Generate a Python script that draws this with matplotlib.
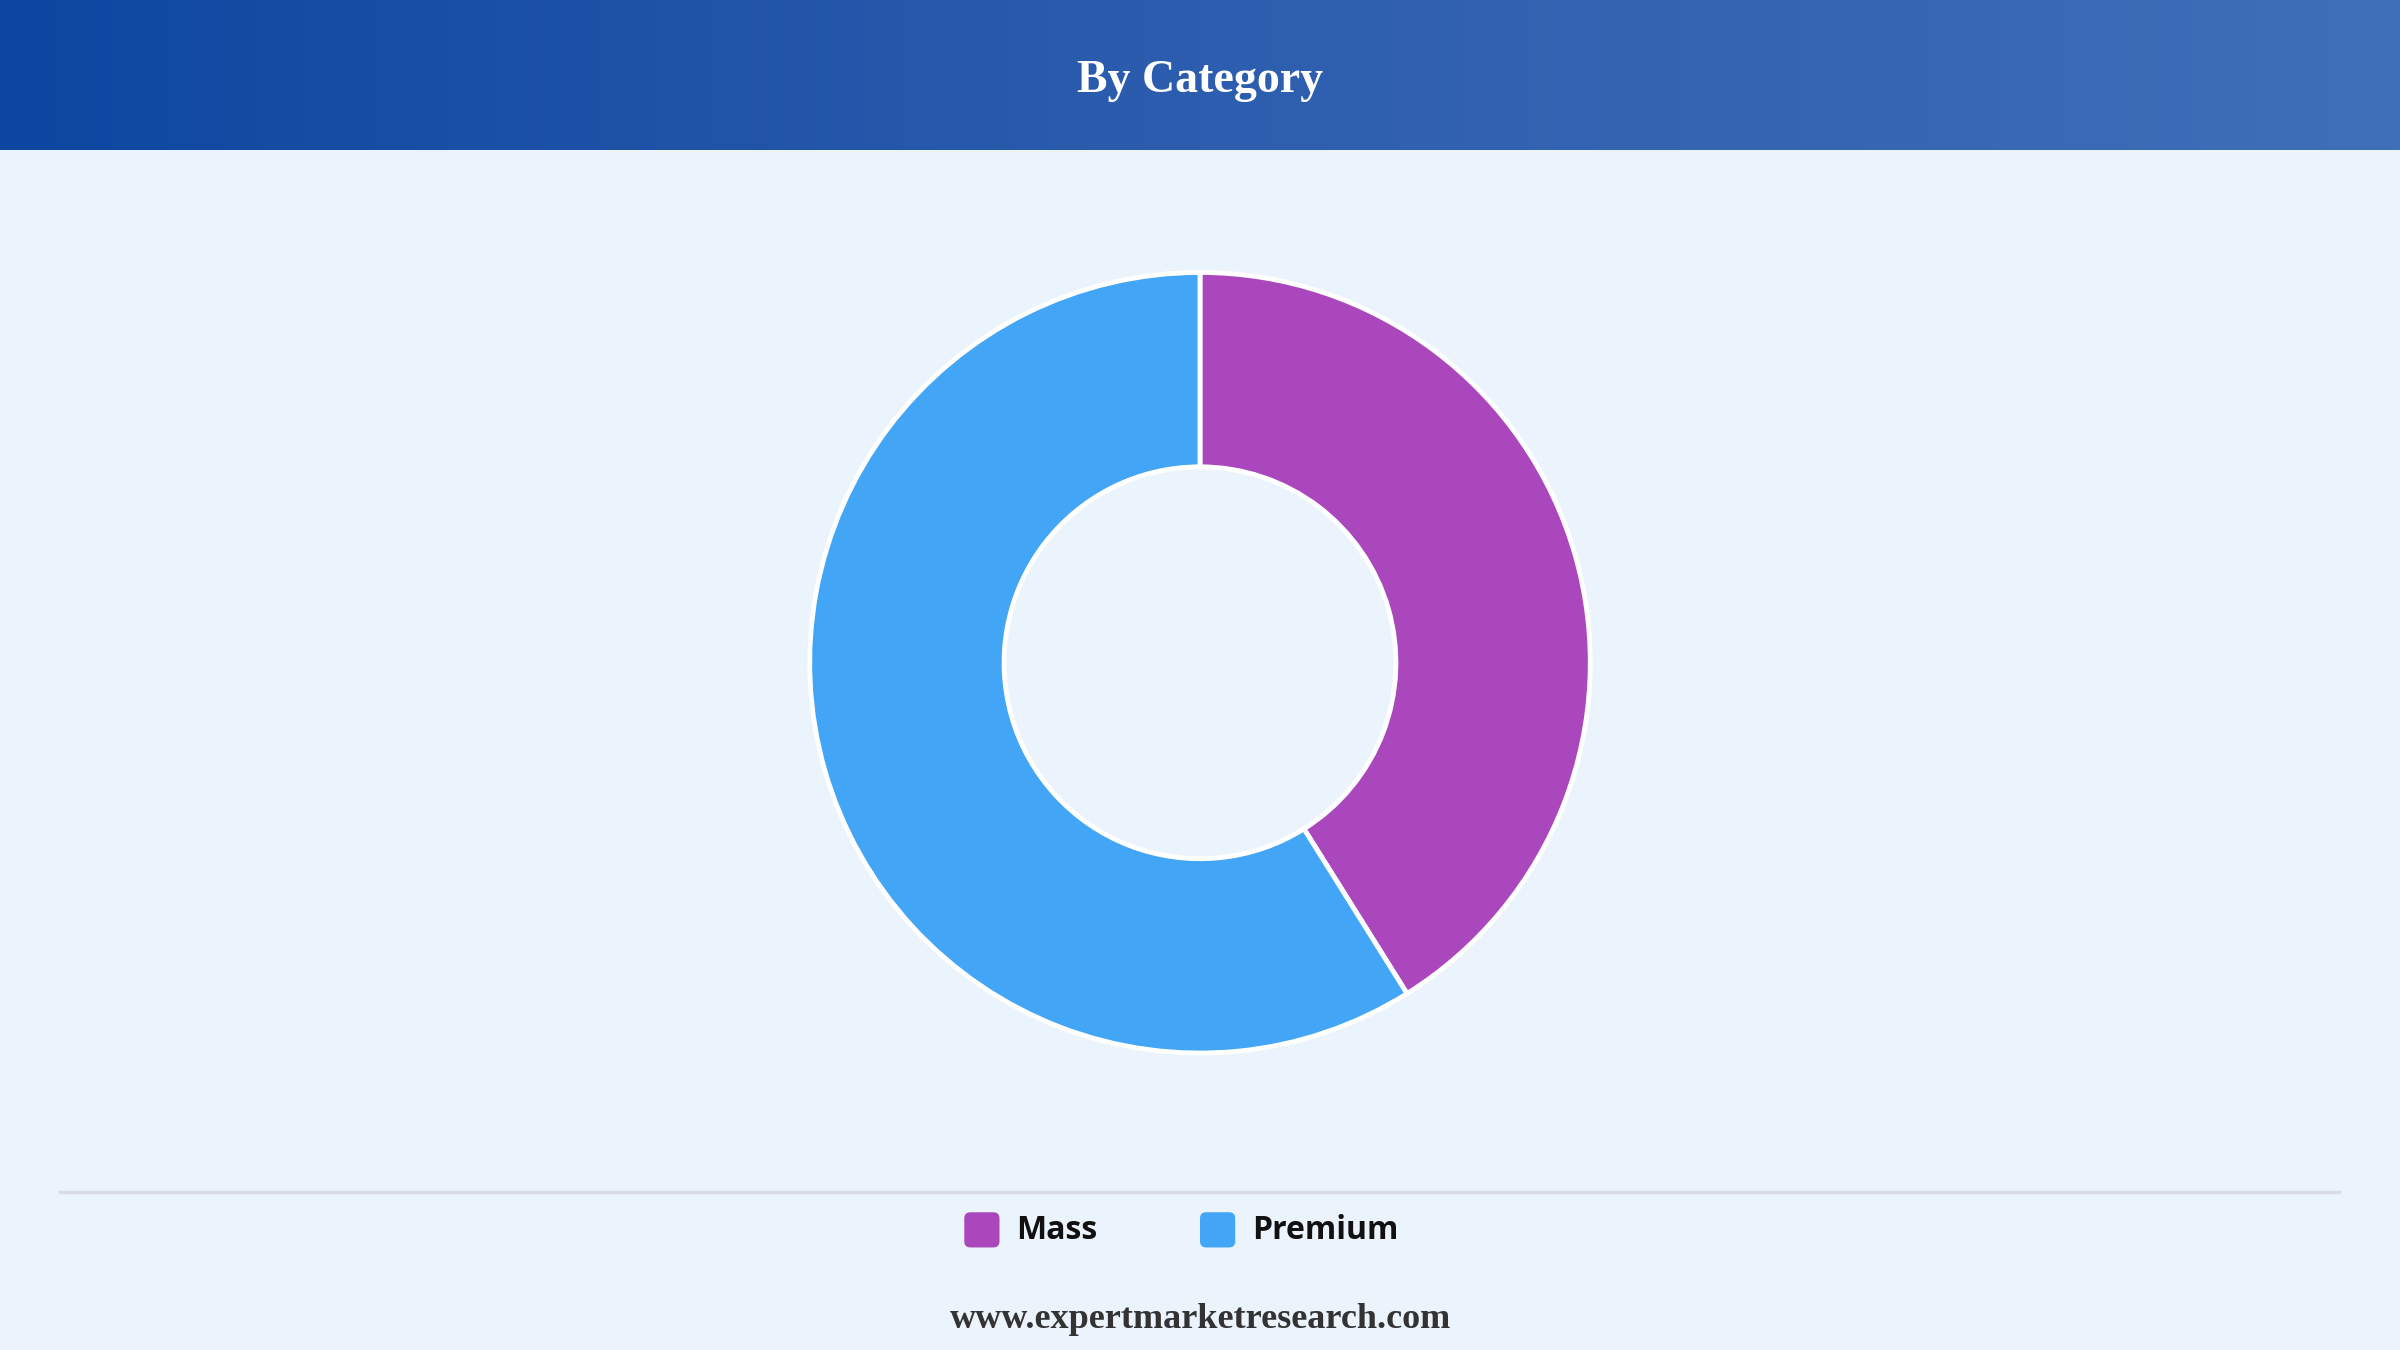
import numpy as np
import matplotlib
matplotlib.use("Agg")
import matplotlib.pyplot as plt
from matplotlib.patches import FancyBboxPatch

# data
categories = ["Mass", "Premium"]
shares = [41.1, 58.9]
colors = ["#AB47BC", "#42A5F5"]

W, H = 1568, 882  # layout in reference pixel units
fig = plt.figure(figsize=(24, 13.5), dpi=100, facecolor="#EBF3FC")
ax = fig.add_axes([0, 0, 1, 1])
ax.set_xlim(0, W)
ax.set_ylim(0, H)
ax.axis("off")

# header gradient
grad = np.linspace(0, 1, 256).reshape(1, -1)
cmap = matplotlib.colors.LinearSegmentedColormap.from_list("hdr", ["#0D47A1", "#2D5DAE", "#3F6FB8"])
ax.imshow(grad, cmap=cmap, extent=[0, W, H - 98, H], aspect="auto", zorder=1)
ax.text(W / 2, H - 53, "By Category", ha="center", va="center", color="white",
        fontsize=33, fontweight="bold", family="Liberation Serif", zorder=2)

# donut
ax.pie(shares, colors=colors, startangle=90, counterclock=False,
       center=(784, H - 433), radius=255,
       wedgeprops=dict(width=127, edgecolor="white", linewidth=3.5))
ax.set_xlim(0, W)
ax.set_ylim(0, H)
ax.set_aspect("auto")

# separator
ax.plot([39, 1528], [H - 779, H - 779], color="#D9DDE3", lw=2.5)

# legend
for x, lab, c in [(630, categories[0], colors[0]), (784, categories[1], colors[1])]:
    ax.add_patch(FancyBboxPatch((x, H - 815), 23, 23, boxstyle="round,pad=0,rounding_size=4",
                                fc=c, ec="none"))
    ax.text(x + 34, H - 804, lab, ha="left", va="center", fontsize=23,
            fontweight="bold", family="Open Sans", color="#111111")

ax.text(W / 2, H - 862, "www.expertmarketresearch.com", ha="center", va="center",
        fontsize=26, fontweight="bold", family="Liberation Serif", color="#333333")

fig.savefig("out.png", dpi=100, facecolor=fig.get_facecolor())
